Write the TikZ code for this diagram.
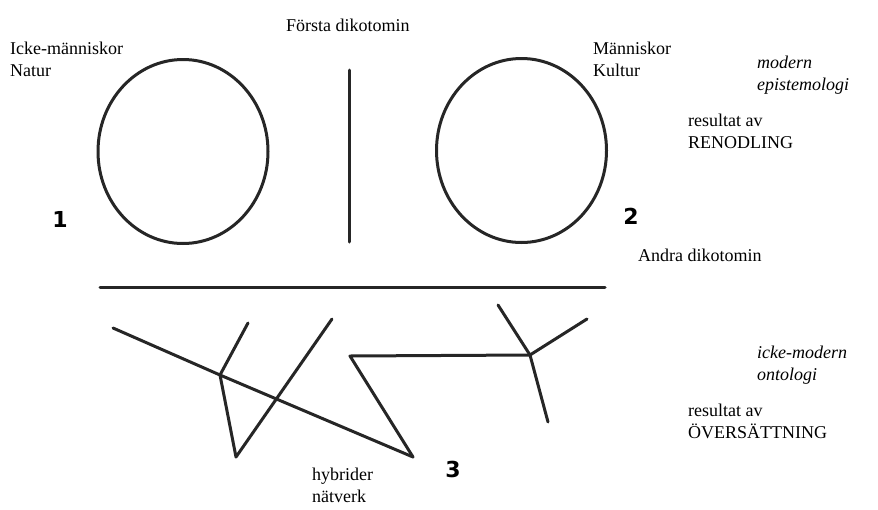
\documentclass[tikz,border=0pt]{standalone}
\usepackage{fontspec}
\setmainfont{Liberation Serif}
\newfontfamily\numfont{DejaVu Sans}
\usetikzlibrary{positioning}

\begin{document}
\begin{tikzpicture}[
        x=1pt, y=-1pt,
        lbl/.style={anchor=base west, inner sep=0pt, align=left, font=\fontsize{18}{22}\selectfont},
        num/.style={anchor=base, inner sep=0pt, font=\numfont\bfseries\fontsize{22}{24}\selectfont},
        stroke/.style={line width=3pt, line cap=round, line join=round, black!85}
    ]
    \useasboundingbox (0,0) rectangle (878,509);

    % ovals and dichotomies
    \draw[stroke] (183,151.5) ellipse [x radius=85, y radius=92];
    \draw[stroke] (521.5,150.5) ellipse [x radius=85, y radius=92];
    \coordinate (vtop) at (349,70);
    \coordinate (vbot) at (349,242);
    \coordinate (hl) at (100,287);
    \coordinate (hr) at (605,287);
    \draw[stroke] (vtop) -- (vbot);
    \draw[stroke] (hl) -- (hr);

    % network
    \coordinate (a) at (113,328);
    \coordinate (j1) at (220,375);
    \coordinate (b) at (248,323);
    \coordinate (c) at (236,457);
    \coordinate (d) at (332,319);
    \coordinate (e) at (413,457);
    \coordinate (f) at (350,356);
    \coordinate (j2) at (530,355);
    \coordinate (g) at (498,305);
    \coordinate (h) at (587,319);
    \coordinate (i) at (548,422);
    \draw[stroke] (a) -- (j1) -- (e);
    \draw[stroke] (j1) -- (b);
    \draw[stroke] (j1) -- (c) -- (d);
    \draw[stroke] (e) -- (f) -- (j2);
    \draw[stroke] (j2) -- (g);
    \draw[stroke] (j2) -- (h);
    \draw[stroke] (j2) -- (i);

    % labels (two-line nodes sit on their last line)
    \node[lbl] (forsta) at (286,31) {Första dikotomin};
    \node[lbl] (natur) at (10,76) {Icke-människor\\Natur};
    \node[lbl] (kultur) at (593,76) {Människor\\Kultur};
    \node[lbl, font=\fontsize{18}{22}\selectfont\itshape] (modern) at (757,90) {modern\\epistemologi};
    \node[lbl] (renodling) at (688,148) {resultat av\\RENODLING};
    \node[lbl] (andra) at (638,261) {Andra dikotomin};
    \node[lbl, font=\fontsize{18}{22}\selectfont\itshape] (ickemodern) at (757,380) {icke-modern\\ontologi};
    \node[lbl] (oversattning) at (688,438) {resultat av\\ÖVERSÄTTNING};
    \node[lbl] (hybrider) at (312,502) {hybrider\\nätverk};

    \node[num] (n1) at (60,227) {1};
    \node[num] (n2) at (631,224) {2};
    \node[num] (n3) at (453,477) {3};
\end{tikzpicture}
\end{document}
